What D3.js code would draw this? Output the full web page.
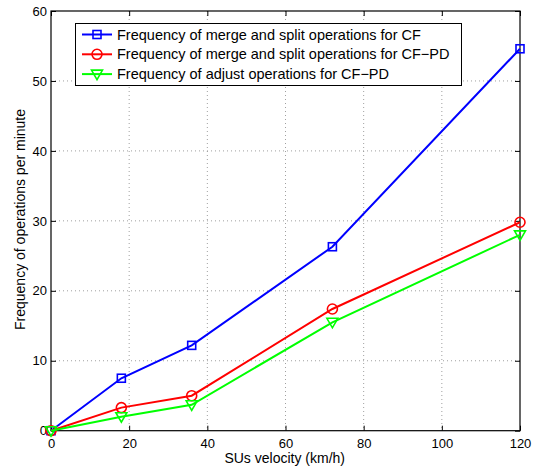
<!DOCTYPE html>
<html><head><meta charset="utf-8">
<script src="https://cdn.jsdelivr.net/npm/d3@7"></script>
<style>body{margin:0;background:#fff}svg{display:block}text{font-family:"Liberation Sans",Arial,sans-serif}</style>
</head><body><svg id="c" width="538" height="466"></svg>
<script>
const velocity = [0, 18, 36, 72, 120];
const mergeSplitCF = [0, 7.5, 12.2, 26.3, 54.6];
const mergeSplitCFPD = [0, 3.3, 5.0, 17.4, 29.8];
const adjustCFPD = [0, 2.0, 3.7, 15.5, 28.0];
const seriesNames = ["Frequency of merge and split operations for CF","Frequency of merge and split operations for CF\u2212PD","Frequency of adjust operations for CF\u2212PD"];
const xTicks = [0,20,40,60,80,100,120];
const yTicks = [0,10,20,30,40,50,60];

const series = [
  {name: seriesNames[0], values: mergeSplitCF, color: "#0000ff", marker: "square"},
  {name: seriesNames[1], values: mergeSplitCFPD, color: "#ff0000", marker: "circle"},
  {name: seriesNames[2], values: adjustCFPD, color: "#00ff00", marker: "tri"}
];

const svg = d3.select("#c");
const L=51, R=520, T=11, B=430.7;
const x = d3.scaleLinear().domain([0,120]).range([L,R]);
const y = d3.scaleLinear().domain([0,60]).range([B,T]);

// grid
const g = svg.append("g");
g.selectAll(".gx").data(xTicks.slice(1,-1)).enter().append("line")
  .attr("x1",d=>x(d)).attr("x2",d=>x(d)).attr("y1",T).attr("y2",B)
  .attr("stroke","#888").attr("stroke-width",0.8).attr("stroke-dasharray","1,3");
g.selectAll(".gy").data(yTicks.slice(1,-1)).enter().append("line")
  .attr("y1",d=>y(d)).attr("y2",d=>y(d)).attr("x1",L).attr("x2",R)
  .attr("stroke","#888").attr("stroke-width",0.8).attr("stroke-dasharray","1,3");

// axes
const fs = "13px";
const xa = svg.append("g").attr("transform",`translate(0,${B})`)
  .call(d3.axisBottom(x).tickValues(xTicks).tickSizeInner(-5).tickSizeOuter(0).tickPadding(8));
const ya = svg.append("g").attr("transform",`translate(${L},0)`)
  .call(d3.axisLeft(y).tickValues(yTicks).tickSizeInner(-5).tickSizeOuter(0).tickPadding(4));
const xt = svg.append("g").attr("transform",`translate(0,${T})`)
  .call(d3.axisTop(x).tickValues(xTicks).tickSizeInner(-5).tickSizeOuter(0).tickFormat(""));
const yr = svg.append("g").attr("transform",`translate(${R},0)`)
  .call(d3.axisRight(y).tickValues(yTicks).tickSizeInner(-5).tickSizeOuter(0).tickFormat(""));
[xa,ya,xt,yr].forEach(a=>{
  a.select(".domain").remove();
  a.selectAll("line").attr("stroke","#000");
  a.selectAll("text").attr("font-size",fs).attr("fill","#000").style("font-family",'"Liberation Sans",Arial,sans-serif');
});
svg.append("rect").attr("x",L).attr("y",T).attr("width",R-L).attr("height",B-T)
  .attr("fill","none").attr("stroke","#000").attr("stroke-width",1.2);

// lines
const line = d3.line().x((d,i)=>x(velocity[i])).y(d=>y(d));
function drawMarker(sel, type, color, cx, cy){
  if(type==="square"){
    sel.append("rect").attr("x",cx-4).attr("y",cy-4).attr("width",8).attr("height",8)
      .attr("fill","none").attr("stroke",color).attr("stroke-width",1.6);
  } else if(type==="circle"){
    sel.append("circle").attr("cx",cx).attr("cy",cy).attr("r",5)
      .attr("fill","none").attr("stroke",color).attr("stroke-width",1.6);
  } else {
    sel.append("path").attr("d",`M${cx-5.5},${cy-4}L${cx+5.5},${cy-4}L${cx},${cy+5.5}Z`)
      .attr("fill","none").attr("stroke",color).attr("stroke-width",1.6);
  }
}
series.forEach(s=>{
  svg.append("path").datum(s.values).attr("d",line).attr("fill","none")
    .attr("stroke",s.color).attr("stroke-width",2);
  const mg = svg.append("g");
  s.values.forEach((v,i)=>drawMarker(mg,s.marker,s.color,x(velocity[i]),y(v)));
});

// legend
const lg = svg.append("g");
lg.append("rect").attr("x",75.5).attr("y",23.5).attr("width",386).attr("height",62)
  .attr("fill","#fff").attr("stroke","#000").attr("stroke-width",1);
series.forEach((s,i)=>{
  const cy = 34.5 + i*19.8;
  lg.append("line").attr("x1",82).attr("x2",112).attr("y1",cy).attr("y2",cy)
    .attr("stroke",s.color).attr("stroke-width",2);
  drawMarker(lg,s.marker,s.color,97,cy);
  lg.append("text").attr("x",117).attr("y",cy+5).attr("font-size","14.5px").text(s.name);
});

// labels
svg.append("text").attr("x",284.7).attr("y",463).attr("text-anchor","middle")
  .attr("font-size","14px").text("SUs velocity (km/h)");
svg.append("text").attr("transform",`translate(24.5,219.5) rotate(-90)`)
  .attr("text-anchor","middle").attr("font-size","14px").text("Frequency of operations per minute");
</script></body></html>
